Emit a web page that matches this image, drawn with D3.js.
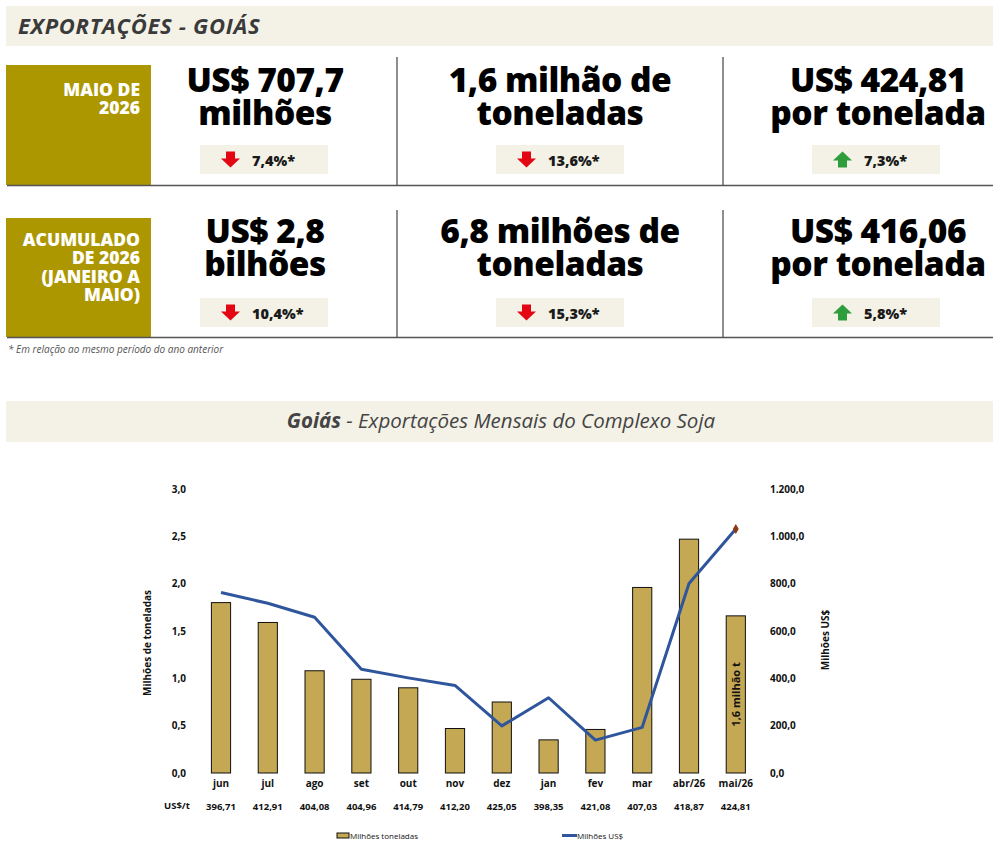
<!DOCTYPE html>
<html>
<head>
<meta charset="utf-8">
<script src="https://d3js.org/d3.v7.min.js"></script>
<style>
  body { margin: 0; background: #fff; }
  svg { display: block; }
</style>
</head>
<body>
<div id="chart"></div>
<script>
// KPI panel data
const kpiPeriods = [["MAIO DE", "2026"], ["ACUMULADO", "DE 2026", "(JANEIRO A", "MAIO)"]];
const kpiTexts = [
  [["US$ 707,7", "milhões"], ["1,6 milhão de", "toneladas"], ["US$ 424,81", "por tonelada"]],
  [["US$ 2,8", "bilhões"], ["6,8 milhões de", "toneladas"], ["US$ 416,06", "por tonelada"]]
];
const kpiChanges = [[-7.4, -13.6, 7.3], [-10.4, -15.3, 5.8]];

// monthly chart data
const months = ["jun", "jul", "ago", "set", "out", "nov", "dez", "jan", "fev", "mar", "abr/26", "mai/26"];
const tons = [1.80, 1.59, 1.08, 0.99, 0.90, 0.47, 0.75, 0.35, 0.46, 1.96, 2.47, 1.66];      // milhões de toneladas
const usd = [763, 717, 658, 438, 402, 370, 199, 318, 139, 193, 801, 1031];                 // milhões US$
const pricePerTon = ["396,71", "412,91", "404,08", "404,96", "414,79", "412,20", "425,05", "398,35", "421,08", "407,03", "418,87", "424,81"];
const lastBarLabel = "1,6 milhão t";

const W = 1002, H = 856;
const gold = "#ad9700", cream = "#f4f2e7";
const heavy = "'Open Sans', Lato, sans-serif";
const small = "'Open Sans', 'Noto Sans', sans-serif";

const br = d3.formatLocale({ decimal: ",", thousands: ".", grouping: [3], currency: ["", ""] });
const fmt1 = br.format(",.1f");

const svg = d3.select("#chart").append("svg")
  .attr("width", W).attr("height", H);

// ---- header ----
svg.append("rect").attr("x", 6).attr("y", 6).attr("width", 987).attr("height", 40).attr("fill", cream);
svg.append("text")
  .attr("x", 18).attr("y", 33.5)
  .attr("font-family", small).attr("font-style", "italic").attr("font-weight", 700)
  .attr("font-size", 22).attr("letter-spacing", 0.7).attr("fill", "#3a3a3a")
  .text("EXPORTAÇÕES - GOIÁS");

// ---- KPI rows ----
const rows = [
  { top: 65, bottom: 185, sepTop: 57, periodY: 96, bigY: 92, pillY: 145 },
  { top: 218, bottom: 337, sepTop: 210, periodY: 246, bigY: 243, pillY: 298 }
];
const colCenters = [265, 560, 878];
const pillX = [200, 496, 812];
const separators = [397, 723];

rows.forEach((r, ri) => {
  const g = svg.append("g");
  g.append("rect").attr("x", 6).attr("y", r.top).attr("width", 145).attr("height", r.bottom - r.top).attr("fill", gold);

  // period label, one text block with a line per tspan
  g.append("text")
    .attr("y", r.periodY)
    .attr("text-anchor", "end")
    .attr("font-family", heavy).attr("font-weight", 800).attr("font-size", 17.5)
    .attr("fill", "#fff")
    .selectAll("tspan").data(kpiPeriods[ri]).join("tspan")
      .attr("x", 140).attr("dy", (d, i) => i ? 18.3 : 0)
      .text(d => d);

  g.append("line").attr("x1", 7).attr("x2", 993).attr("y1", r.bottom + 0.5).attr("y2", r.bottom + 0.5)
    .attr("stroke", "#555").attr("stroke-width", 1.5);
  separators.forEach(sx => {
    g.append("line").attr("x1", sx).attr("x2", sx).attr("y1", r.sepTop).attr("y2", r.bottom)
      .attr("stroke", "#444").attr("stroke-width", 1.2);
  });

  kpiTexts[ri].forEach((lines, ci) => {
    g.append("text")
      .attr("y", r.bigY)
      .attr("text-anchor", "middle")
      .attr("font-family", heavy).attr("font-weight", 800).attr("font-size", 33.5)
      .attr("letter-spacing", -0.5)
      .attr("fill", "#000")
      .selectAll("tspan").data(lines).join("tspan")
        .attr("x", colCenters[ci]).attr("dy", (d, i) => i ? 32.5 : 0)
        .text(d => d);

    const ch = kpiChanges[ri][ci];
    const px = pillX[ci];
    g.append("rect").attr("x", px).attr("y", r.pillY).attr("width", 128).attr("height", 29).attr("fill", cream);
    const down = ch < 0;
    const arrow = down
      ? "M-4.5,0 L4.5,0 L4.5,7 L9.5,7 L0,16 L-9.5,7 L-4.5,7 Z"
      : "M-4.5,16 L4.5,16 L4.5,9 L9.5,9 L0,0 L-9.5,9 L-4.5,9 Z";
    g.append("path")
      .attr("transform", `translate(${px + 30.5},${r.pillY + 6.5})`)
      .attr("d", arrow)
      .attr("fill", down ? "#e30613" : "#2e9d3c");
    g.append("text")
      .attr("x", px + 52).attr("y", r.pillY + 20.5)
      .attr("font-family", heavy).attr("font-weight", 800).attr("font-size", 14.5)
      .attr("fill", "#1a1a1a")
      .text(br.format(".1f")(Math.abs(ch)) + "%*");
  });
});

svg.append("text")
  .attr("x", 8).attr("y", 352.5)
  .attr("font-family", small).attr("font-style", "italic").attr("font-size", 10)
  .attr("fill", "#555")
  .text("* Em relação ao mesmo período do ano anterior");

// ---- chart title ----
svg.append("rect").attr("x", 6).attr("y", 401).attr("width", 987).attr("height", 41).attr("fill", cream);
const title = svg.append("text")
  .attr("x", 501).attr("y", 428)
  .attr("text-anchor", "middle")
  .attr("font-family", small).attr("font-style", "italic").attr("font-size", 20.5)
  .attr("fill", "#444");
title.append("tspan").attr("font-weight", 700).text("Goiás");
title.append("tspan").text(" - Exportações Mensais do Complexo Soja");

// ---- bar + line chart ----
const x = d3.scaleBand().domain(months).range([197.6, 759.2]).paddingInner(0.59).paddingOuter(0.295);
const yL = d3.scaleLinear().domain([0, 3]).range([773, 489]);
const yR = d3.scaleLinear().domain([0, 1200]).range([773, 489]);

const axisFont = g => g.selectAll("text")
  .attr("font-family", small).attr("font-weight", 700).attr("font-size", 10).attr("fill", "#111");

svg.append("g")
  .attr("transform", "translate(186,0)")
  .call(d3.axisLeft(yL).tickValues(d3.range(0, 3.01, 0.5)).tickSize(0).tickPadding(0).tickFormat(fmt1))
  .call(g => g.select(".domain").remove())
  .call(axisFont);

svg.append("g")
  .attr("transform", "translate(770,0)")
  .call(d3.axisRight(yR).tickValues(d3.range(0, 1201, 200)).tickSize(0).tickPadding(0).tickFormat(fmt1))
  .call(g => g.select(".domain").remove())
  .call(axisFont);

svg.append("g")
  .attr("transform", "translate(0,780)")
  .call(d3.axisBottom(x).tickSize(0).tickPadding(0))
  .call(g => g.select(".domain").remove())
  .call(axisFont)
  .call(g => g.selectAll("text").attr("dy", "0.71em"));

// US$/t row
svg.append("text")
  .attr("x", 164).attr("y", 809)
  .attr("font-family", small).attr("font-weight", 700).attr("font-size", 9.5).attr("fill", "#111")
  .text("US$/t");
svg.append("g").selectAll("text").data(months).join("text")
  .attr("x", d => x(d) + x.bandwidth() / 2).attr("y", 810)
  .attr("text-anchor", "middle")
  .attr("font-family", small).attr("font-weight", 700).attr("font-size", 9.5).attr("fill", "#111")
  .text((d, i) => pricePerTon[i]);

// axis titles
svg.append("text")
  .attr("transform", `translate(151,643) rotate(-90)`)
  .attr("text-anchor", "middle")
  .attr("font-family", small).attr("font-weight", 700).attr("font-size", 10).attr("fill", "#111")
  .text("Milhões de toneladas");
svg.append("text")
  .attr("transform", `translate(829,640) rotate(-90)`)
  .attr("text-anchor", "middle")
  .attr("font-family", small).attr("font-weight", 700).attr("font-size", 10).attr("fill", "#111")
  .text("Milhões US$");

// bars
svg.append("g").selectAll("rect").data(months).join("rect")
  .attr("x", d => x(d))
  .attr("y", (d, i) => yL(tons[i]))
  .attr("width", x.bandwidth())
  .attr("height", (d, i) => yL(0) - yL(tons[i]))
  .attr("fill", "#c4a853")
  .attr("stroke", "#111").attr("stroke-width", 1);

// label inside last bar
const lastM = months[months.length - 1];
svg.append("text")
  .attr("transform", `translate(${x(lastM) + x.bandwidth() / 2 + 4},${(yL(tons[tons.length - 1]) + yL(0)) / 2}) rotate(-90)`)
  .attr("text-anchor", "middle")
  .attr("font-family", small).attr("font-weight", 700).attr("font-size", 11).attr("fill", "#111")
  .text(lastBarLabel);

// line
const line = d3.line()
  .x((d, i) => x(months[i]) + x.bandwidth() / 2)
  .y(d => yR(d));
svg.append("path")
  .datum(usd)
  .attr("d", line)
  .attr("fill", "none")
  .attr("stroke", "#2f569c").attr("stroke-width", 3)
  .attr("stroke-linejoin", "round");

// marker on last point
const lastX = x(lastM) + x.bandwidth() / 2, lastY = yR(usd[usd.length - 1]);
svg.append("path")
  .attr("transform", `translate(${lastX},${lastY})`)
  .attr("d", d3.symbol(d3.symbolDiamond, 30)())
  .attr("fill", "#8b3a12");

// legend
const leg = svg.append("g");
leg.append("rect").attr("x", 337).attr("y", 833).attr("width", 12).attr("height", 5)
  .attr("fill", "#c4a853").attr("stroke", "#111").attr("stroke-width", 1);
leg.append("text").attr("x", 350).attr("y", 838.5)
  .attr("font-family", small).attr("font-size", 8).attr("fill", "#111")
  .text("Milhões toneladas");
leg.append("line").attr("x1", 562).attr("x2", 577).attr("y1", 835.5).attr("y2", 835.5)
  .attr("stroke", "#2f569c").attr("stroke-width", 3);
leg.append("text").attr("x", 577).attr("y", 838.5)
  .attr("font-family", small).attr("font-size", 8).attr("fill", "#111")
  .text("Milhões US$");
</script>
</body>
</html>
